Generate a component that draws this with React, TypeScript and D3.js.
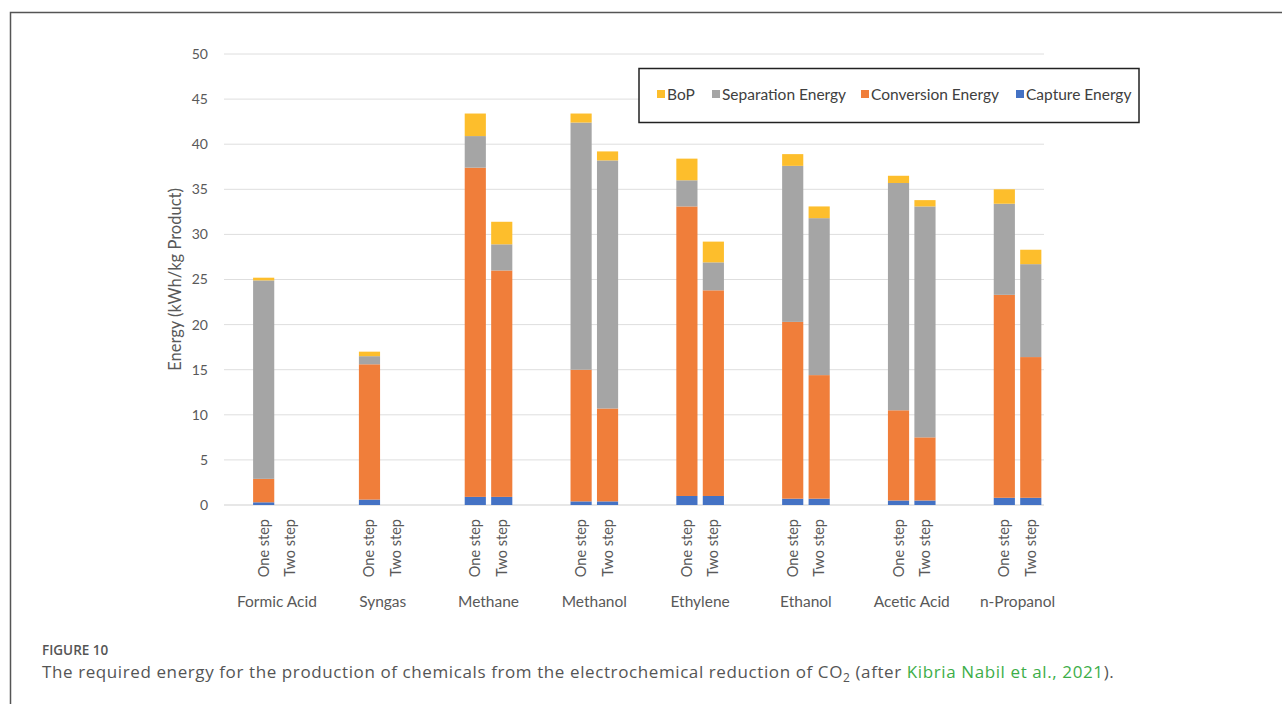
import React from "react";
import * as d3 from "d3";

const groups = ["Formic Acid", "Syngas", "Methane", "Methanol", "Ethylene", "Ethanol", "Acetic Acid", "n-Propanol"];
const steps = ["One step", "Two step"];
const seriesNames = ["Capture Energy", "Conversion Energy", "Separation Energy", "BoP"];
const seriesColors = ["#4472C4", "#F07E3A", "#A5A5A5", "#FDBE2C"];
const legendOrder = ["BoP", "Separation Energy", "Conversion Energy", "Capture Energy"];

// values per bar in order: groups x steps (one step, two step); null = no bar
const captureEnergy = [0.3, null, 0.6, null, 0.9, 0.9, 0.4, 0.4, 1.0, 1.0, 0.7, 0.7, 0.5, 0.5, 0.8, 0.8];
const conversionEnergy = [2.6, null, 15.0, null, 36.5, 25.1, 14.6, 10.3, 32.1, 22.8, 19.6, 13.7, 10.0, 7.0, 22.5, 15.6];
const separationEnergy = [22.0, null, 0.9, null, 3.5, 2.9, 27.4, 27.5, 2.9, 3.1, 17.3, 17.4, 25.2, 25.6, 10.1, 10.3];
const bopEnergy = [0.3, null, 0.5, null, 2.5, 2.5, 1.0, 1.0, 2.4, 2.3, 1.3, 1.3, 0.8, 0.7, 1.6, 1.6];
const yTicks = [0, 5, 10, 15, 20, 25, 30, 35, 40, 45, 50];

const W = 1282, H = 704;
const plotLeft = 224, plotRight = 1044, plotTop = 54, plotBottom = 505;
const slot = (plotRight - plotLeft) / 31;

export default function App() {
  const y = d3.scaleLinear().domain([0, 50]).range([plotBottom, plotTop]);
  const xGroup = d3.scaleBand<string>().domain(groups).range([plotLeft, plotLeft + slot * 32]);
  const xStep = d3.scaleBand<string>().domain(steps).range([slot, slot * 3]).paddingInner(0.2).paddingOuter(0.1);

  const rows = groups.flatMap((g, gi) =>
    steps.map((s, si) => {
      const i = gi * 2 + si;
      return {
        group: g,
        step: s,
        "Capture Energy": captureEnergy[i],
        "Conversion Energy": conversionEnergy[i],
        "Separation Energy": separationEnergy[i],
        BoP: bopEnergy[i],
      } as any;
    })
  );
  const stacked = d3.stack<any>().keys(seriesNames).value((d, k) => (d[k] == null ? 0 : d[k]))(rows);
  const color = d3.scaleOrdinal<string, string>().domain(seriesNames).range(seriesColors);
  const font = "Lato, 'Open Sans', sans-serif";
  const textGray = "#595959";

  const legendX = [657, 712, 861, 1016];

  return (
    <svg width={W} height={H} style={{ position: "absolute", left: 0, top: 0, background: "#fff" }}>
      {/* frame */}
      <path d={`M10.5,${H} V12.5 H${W}`} fill="none" stroke="#555" strokeWidth={1.5} />
      {/* gridlines */}
      {yTicks.map((t) => (
        <line key={t} x1={plotLeft} x2={plotRight} y1={y(t)} y2={y(t)} stroke={t === 0 ? "#cfcfcf" : "#dedede"} strokeWidth={1} />
      ))}
      {yTicks.map((t) => (
        <text key={"l" + t} x={208} y={y(t)} dy="0.35em" textAnchor="end" fontFamily={font} fontSize={14} fill={textGray}>
          {t}
        </text>
      ))}
      <text transform={`translate(181,${(plotTop + plotBottom) / 2}) rotate(-90)`} textAnchor="middle" fontFamily={font} fontSize={16.5} fill={textGray}>
        Energy (kWh/kg Product)
      </text>
      {/* bars */}
      {stacked.map((layer) => (
        <g key={layer.key} fill={color(layer.key)}>
          {layer.map((seg, i) => {
            const d = seg.data;
            if (d[layer.key] == null) return null;
            const x0 = (xGroup(d.group) as number) + (xStep(d.step) as number);
            return <rect key={i} x={x0} width={xStep.bandwidth()} y={y(seg[1])} height={y(seg[0]) - y(seg[1])} />;
          })}
        </g>
      ))}
      {/* x labels */}
      {rows.map((d, i) => {
        const cx = (xGroup(d.group) as number) + (xStep(d.step) as number) + xStep.bandwidth() / 2;
        return (
          <text key={"s" + i} transform={`translate(${cx + 5},519) rotate(-90)`} textAnchor="end" fontFamily={font} fontSize={14.5} fill={textGray}>
            {d.step}
          </text>
        );
      })}
      {groups.map((g) => (
        <text key={g} x={(xGroup(g) as number) + slot * 2} y={607} textAnchor="middle" fontFamily={font} fontSize={15.5} fill={textGray}>
          {g}
        </text>
      ))}
      {/* legend */}
      <rect x={639} y={68.5} width={500} height={54} fill="#fff" stroke="#222" strokeWidth={1.5} />
      {legendOrder.map((k, i) => (
        <g key={k}>
          <rect x={legendX[i]} y={90} width={8} height={8} fill={color(k)} />
          <text x={legendX[i] + 10} y={99.5} fontFamily={font} fontSize={15.5} fill="#404040">
            {k}
          </text>
        </g>
      ))}
      {/* caption */}
      <text x={42} y={655} fontFamily="'Open Sans', sans-serif" fontSize={13.5} fontWeight={600} fill="#555">
        FIGURE 10
      </text>
      <text x={42} y={678} fontFamily="'Open Sans', sans-serif" fontSize={17} letterSpacing={0.6} fill="#555">
        The required energy for the production of chemicals from the electrochemical reduction of CO
        <tspan fontSize={12} dy={4}>2</tspan>
        <tspan dy={-4}> (after </tspan>
        <tspan fill="#3dae49">Kibria Nabil et al., 2021</tspan>
        <tspan>).</tspan>
      </text>
    </svg>
  );
}
